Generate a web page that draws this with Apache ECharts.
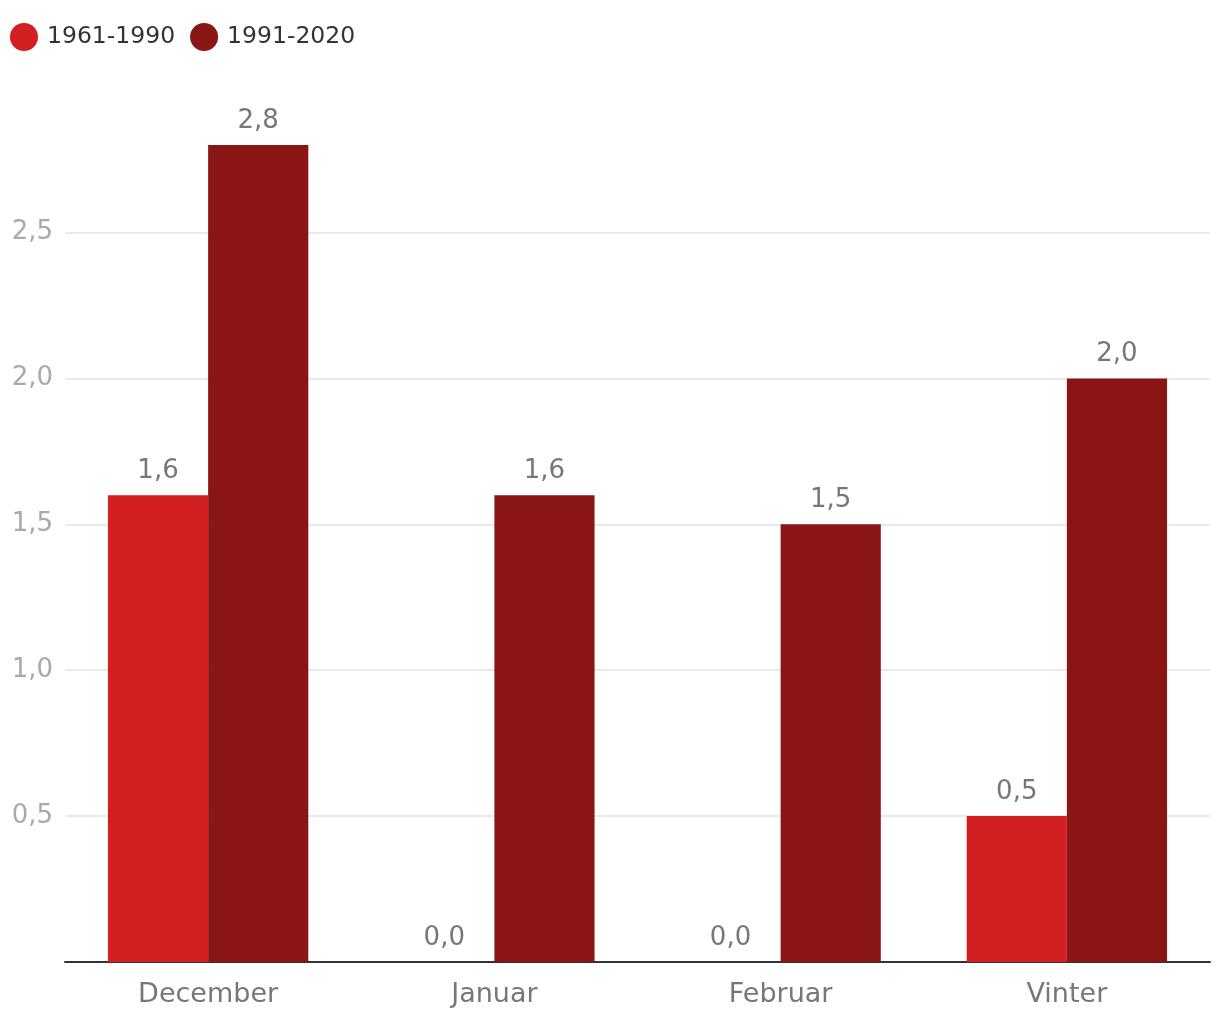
<!DOCTYPE html>
<html>
<head>
<meta charset="utf-8">
<script src="https://cdn.jsdelivr.net/npm/echarts@6/dist/echarts.min.js"></script>
<style>
html,body{margin:0;padding:0;background:#fff;}
#chart{width:1220px;height:1020px;}
</style>
</head>
<body>
<div id="chart"></div>
<script>
const categories = ['December', 'Januar', 'Februar', 'Vinter'];
const seriesNames = ['1961-1990', '1991-2020'];
const values1961 = [1.6, 0.0, 0.0, 0.5];
const values1991 = [2.8, 1.6, 1.5, 2.0];
const colors = ['#d21f21', '#8a1515'];

const fmt = v => v.toFixed(1).replace('.', ',');
const font = '"DejaVu Sans", sans-serif';

const chart = echarts.init(document.getElementById('chart'));
chart.setOption({
  animation: false,
  textStyle: { fontFamily: font },
  legend: {
    left: 10, top: 23, padding: 0,
    icon: 'circle', itemWidth: 28, itemHeight: 28, itemGap: 15,
    textStyle: { fontSize: 23.5, color: '#333', padding: [2, 0, 0, 4], fontFamily: font },
    data: seriesNames
  },
  grid: { left: 65, right: 10, top: 145, bottom: 58, containLabel: false },
  xAxis: {
    type: 'category', data: categories,
    axisLine: { lineStyle: { color: '#333', width: 2 } },
    axisTick: { show: false },
    axisLabel: { color: '#777', fontSize: 27, margin: 19, fontFamily: font }
  },
  yAxis: {
    type: 'value', min: 0, max: 2.8, interval: 0.5,
    axisLine: { show: false }, axisTick: { show: false },
    splitLine: { show: true, showMaxLine: false, showMinLine: false, lineStyle: { color: '#e2e2e2', width: 1.5 } },
    axisLabel: {
      color: '#aaa', fontSize: 26, margin: 12, fontFamily: font,
      padding: [5, 0, 0, 0],
      showMinLabel: false, showMaxLabel: false,
      formatter: v => (v === 0 ? '' : fmt(v))
    }
  },
  series: [
    {
      name: seriesNames[0], type: 'bar', data: values1961,
      itemStyle: { color: colors[0] },
      barGap: '0%', barCategoryGap: '30%',
      label: { show: true, position: 'top', distance: 11, color: '#777', fontSize: 26, fontFamily: font, formatter: p => fmt(p.value) }
    },
    {
      name: seriesNames[1], type: 'bar', data: values1991,
      itemStyle: { color: colors[1] },
      barGap: '0%', barCategoryGap: '30%',
      label: { show: true, position: 'top', distance: 11, color: '#777', fontSize: 26, fontFamily: font, formatter: p => fmt(p.value) }
    }
  ]
});
</script>
</body>
</html>
